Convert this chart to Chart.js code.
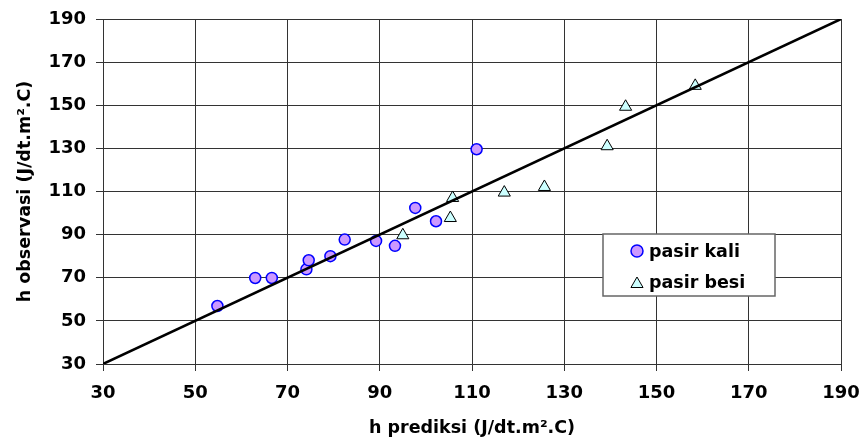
<!DOCTYPE html>
<html>
<head>
<meta charset="utf-8">
<title>h prediksi vs h observasi</title>
<script src="https://cdn.jsdelivr.net/npm/chart.js"></script>
<style>
	body { margin : 0; background : #fff; }
	#wrap { width : 861px; height : 444px; }
</style>
</head>
<body>
<div id="wrap"><canvas id="scatter-chart" width="861" height="444"></canvas></div>
<script>
	// titik data
	var kaliX = [54.8, 63.0, 66.6, 74.1, 74.6, 79.3, 82.4, 89.2, 93.3, 97.7, 102.2, 111.0];
	var kaliY = [56.9, 69.9, 69.9, 73.9, 78.1, 80.0, 87.7, 87.1, 84.8, 102.4, 96.2, 129.6];

	var besiX = [95.0, 105.3, 105.8, 117.0, 125.7, 139.3, 143.3, 158.4];
	var besiY = [89.7, 97.7, 107.0, 109.5, 112.1, 131.0, 149.3, 159.0];

	// garis y = x
	var garisX = [30, 190];
	var garisY = [30, 190];

	var sumbuMin = 30;
	var sumbuMax = 190;
	var sumbuStep = 20;

	var labelKali = "pasir kali";
	var labelBesi = "pasir besi";
	var judulX = "h prediksi (J/dt.m\u00b2.C)";
	var judulY = "h observasi (J/dt.m\u00b2.C)";

	function toPoints(xs, ys) {
		var pts = [];
		for (var i = 0; i < xs.length; i++) {
			pts.push({ x : xs[i], y : ys[i] });
		}
		return pts;
	}

	Chart.defaults.font.family = "'DejaVu Sans', sans-serif";
	Chart.defaults.font.weight = "bold";
	Chart.defaults.color = "#000";

	var gridColor = "#333";

	// legend kotak di dalam area plot
	var legendBox = {
		id : "legendBox",
		afterDraw : function(chart) {
			var ctx = chart.ctx;
			ctx.save();
			ctx.fillStyle = "#fff";
			ctx.strokeStyle = "#666";
			ctx.lineWidth = 1.5;
			ctx.fillRect(603, 234, 172, 62);
			ctx.strokeRect(603, 234, 172, 62);

			ctx.fillStyle = "#cc99ff";
			ctx.strokeStyle = "#0000ff";
			ctx.lineWidth = 1.5;
			Chart.helpers.drawPoint(ctx, { pointStyle : "circle", radius : 6, rotation : 0, borderWidth : 1.5 }, 637, 251);

			ctx.fillStyle = "#ccffff";
			ctx.strokeStyle = "#000";
			ctx.lineWidth = 1;
			Chart.helpers.drawPoint(ctx, { pointStyle : "triangle", radius : 7, rotation : 0, borderWidth : 1 }, 637, 284);

			ctx.fillStyle = "#000";
			ctx.font = "bold 17.5px 'DejaVu Sans', sans-serif";
			ctx.textAlign = "left";
			ctx.textBaseline = "alphabetic";
			ctx.fillText(labelKali, 649, 257);
			ctx.fillText(labelBesi, 649, 288);
			ctx.restore();
		}
	};

	var ctx = document.getElementById("scatter-chart");

	var data = {
		datasets : [
			{
				label : "y = x",
				type : "line",
				data : toPoints(garisX, garisY),
				borderColor : "#000",
				borderWidth : 2.5,
				pointRadius : 0,
				fill : false,
				order : 0
			},
			{
				label : labelKali,
				data : toPoints(kaliX, kaliY),
				pointStyle : "circle",
				pointRadius : 5.5,
				pointBackgroundColor : "#cc99ff",
				pointBorderColor : "#0000ff",
				pointBorderWidth : 1.5,
				order : 1
			},
			{
				label : labelBesi,
				data : toPoints(besiX, besiY),
				pointStyle : "triangle",
				pointRadius : 7,
				pointBackgroundColor : "#ccffff",
				pointBorderColor : "#000",
				pointBorderWidth : 1,
				order : 2
			}
		]
	};

	var options = {
		responsive : false,
		animation : false,
		layout : {
			padding : { top : 19, right : 20, bottom : 0, left : 0 }
		},
		plugins : {
			legend : { display : false },
			tooltip : { enabled : false }
		},
		scales : {
			x : {
				type : "linear",
				min : sumbuMin,
				max : sumbuMax,
				afterFit : function(scale) {
					scale.height = 80;
					scale.paddingLeft = 0;
					scale.paddingRight = 0;
				},
				ticks : {
					stepSize : sumbuStep,
					padding : 12,
					maxRotation : 0,
					font : { size : 18, weight : "bold" }
				},
				grid : { color : gridColor, lineWidth : 1, tickLength : 7 },
				border : { color : gridColor, width : 1 },
				title : {
					display : true,
					text : judulX,
					font : { size : 17.5, weight : "bold" },
					padding : { top : 0, bottom : 5 }
				}
			},
			y : {
				type : "linear",
				min : sumbuMin,
				max : sumbuMax,
				afterFit : function(scale) {
					scale.width = 103;
					scale.paddingTop = 0;
					scale.paddingBottom = 0;
				},
				ticks : {
					stepSize : sumbuStep,
					padding : 10,
					font : { size : 18, weight : "bold" }
				},
				grid : { color : gridColor, lineWidth : 1, tickLength : 7 },
				border : { color : gridColor, width : 1 },
				title : {
					display : true,
					text : judulY,
					font : { size : 17.5, weight : "bold" },
					padding : { top : 15, bottom : 0 }
				}
			}
		}
	};

	var chart = new Chart(ctx, {
		type : "scatter",
		data : data,
		options : options,
		plugins : [legendBox]
	});
</script>
</body>
</html>
